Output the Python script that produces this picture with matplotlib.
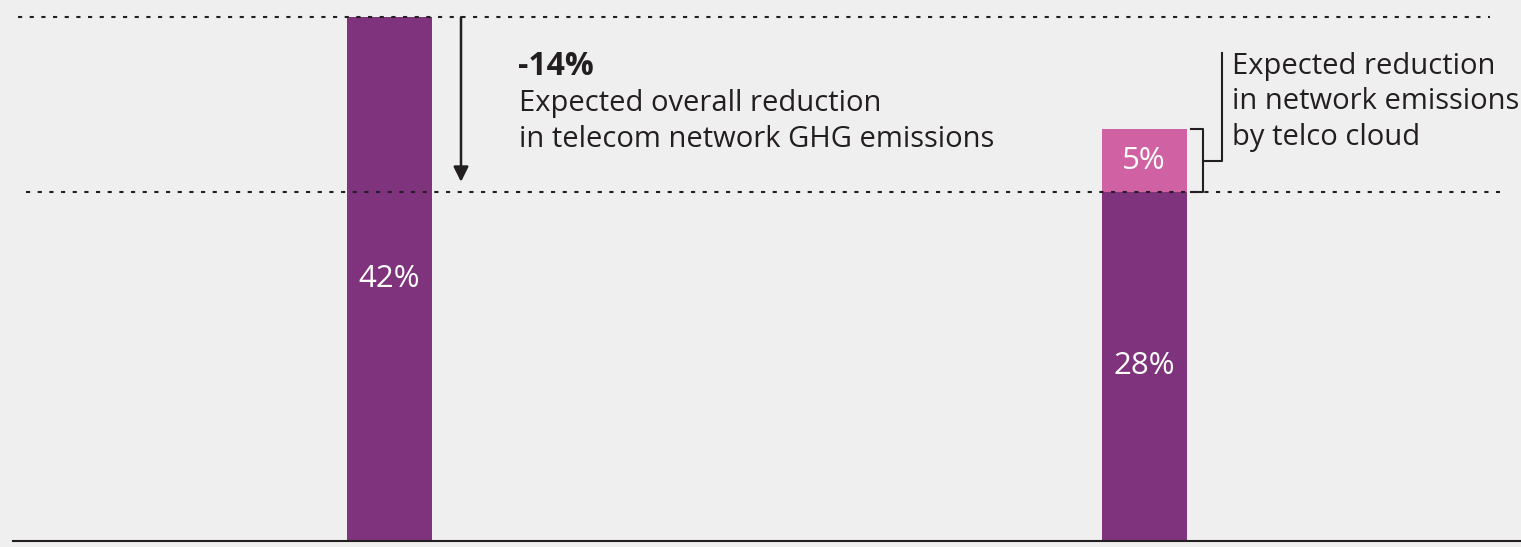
import matplotlib
matplotlib.use('Agg')
from matplotlib import pyplot as plt

# values (% of emissions)
categories = ['today', 'with telco cloud']
base_values = [42, 28]
cloud_values = [0, 5]
base_labels = ['42%', '28%']
cloud_label = '5%'
reduction_label = '-14%'
reduction_text = 'Expected overall reduction\nin telecom network GHG emissions'
cloud_text = 'Expected reduction\nin network emissions\nby telco cloud'

W, H = 1521, 547
BG = '#efefef'
PURPLE = '#7f337c'
PINK = '#d062a4'
INK = '#231f20'
FONT = ['Open Sans', 'DejaVu Sans']

plt.rcParams['font.family'] = FONT

fig = plt.figure(figsize=(W / 100, H / 100), dpi=100, facecolor=BG)
# axes spans whole width; bottom at the baseline
ax = fig.add_axes([0, 6 / H, 1, 541 / H])
ax.set_facecolor(BG)

px_per_pct = 12.47
ax.set_ylim(0, 541 / px_per_pct)
gap = 755.0  # px between bar centres
x0_px = 389.0
ax.set_xlim(-x0_px / gap, (W - x0_px) / gap)
width = 85 / gap
xs = [0, 1]


def px2x(px):
    return (px - x0_px) / gap


def px2y(py):
    return (541 - py) / px_per_pct


ax.bar(xs, base_values, width=width, color=PURPLE, zorder=2)
ax.bar(xs, cloud_values, bottom=base_values, width=width, color=PINK, zorder=2)

for x, v, lab in zip(xs, base_values, base_labels):
    ax.text(x, v / 2, lab, color='white', ha='center', va='center',
            fontsize=22.5, zorder=3)
ax.text(xs[1], base_values[1] + cloud_values[1] / 2, cloud_label,
        color='white', ha='center', va='center', fontsize=22.5, zorder=3)

# dotted reference lines
dots = (0, (2, 3.6))
ax.plot([px2x(18), px2x(1490)], [base_values[0]] * 2, color=INK, lw=1.5,
        ls=dots, zorder=4)
ax.plot([px2x(26), px2x(1500)], [base_values[1]] * 2, color=INK, lw=1.5,
        ls=dots, zorder=4)

# baseline
ax.plot([px2x(13), px2x(W)], [0, 0], color=INK, lw=1.5, clip_on=False, zorder=5)

# reduction arrow
ax_x = px2x(461)
ax.annotate('', xy=(ax_x, base_values[1] + 10 / px_per_pct), xytext=(ax_x, base_values[0]),
            arrowprops=dict(arrowstyle='-|>,head_length=0.9,head_width=0.45',
                            color=INK, lw=1.8, shrinkA=0, shrinkB=0))
ax.text(px2x(518), px2y(75), reduction_label,
        fontsize=23, fontweight='bold', color=INK, va='baseline')
# va='baseline' on multi-line text anchors the last line
ax.text(px2x(519), px2y(147), reduction_text,
        fontsize=21, color=INK, va='baseline', linespacing=1.3)

# bracket for the cloud share
top = base_values[1] + cloud_values[1]
bot = base_values[1]
mid = (top + bot) / 2
bx0, bx1, bx2 = px2x(1191), px2x(1203), px2x(1222)
ax.plot([bx0, bx1, bx1, bx0], [top, top, bot, bot], color=INK, lw=1.5, zorder=4)
ax.plot([bx1, bx2, bx2], [mid, mid, px2y(53)], color=INK, lw=1.5, zorder=4)
ax.text(px2x(1232), px2y(145), cloud_text, fontsize=21, color=INK,
        va='baseline', linespacing=1.3)

ax.axis('off')
fig.savefig('out.png', dpi=100, facecolor=BG)
